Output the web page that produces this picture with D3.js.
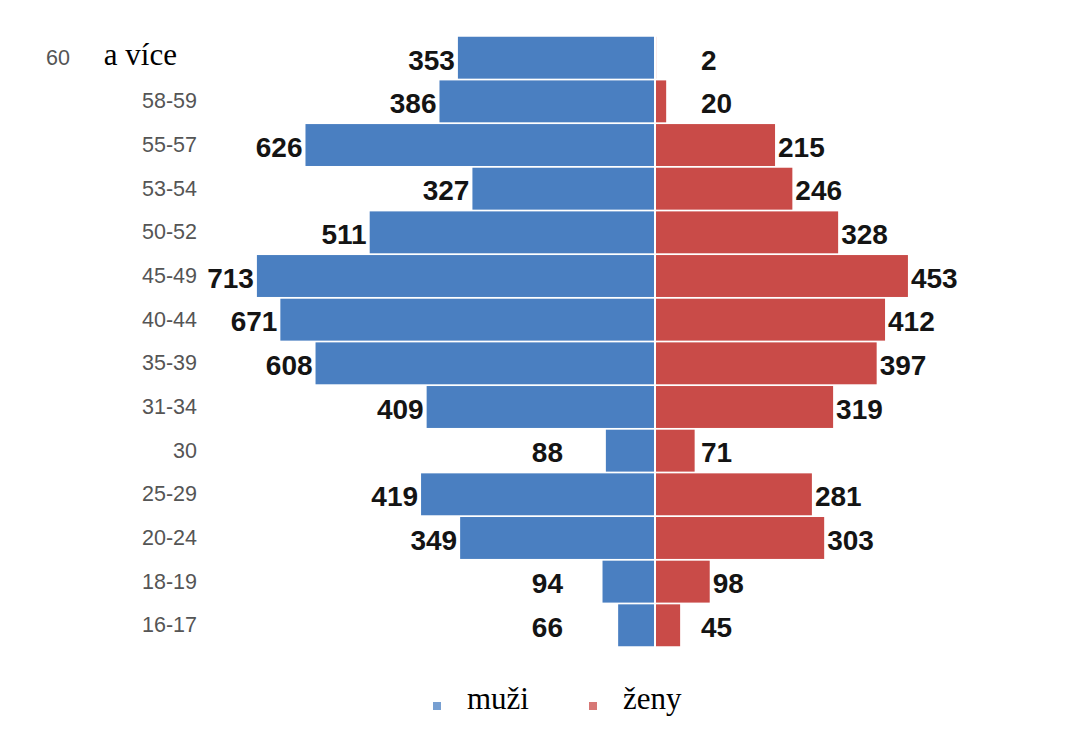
<!DOCTYPE html>
<html>
<head>
<meta charset="utf-8">
<script src="https://cdn.jsdelivr.net/npm/d3@7"></script>
<style>
  body { margin: 0; background: #fff; }
</style>
</head>
<body>
<div id="chart"></div>
<script>
// age groups, top to bottom
var ageGroups = ["60 a více", "58-59", "55-57", "53-54", "50-52", "45-49", "40-44",
  "35-39", "31-34", "30", "25-29", "20-24", "18-19", "16-17"];
var men = [353, 386, 626, 327, 511, 713, 671, 608, 409, 88, 419, 349, 94, 66];
var women = [2, 20, 215, 246, 328, 453, 412, 397, 319, 71, 281, 303, 98, 45];
var seriesNames = ["muži", "ženy"];

var svgWidth = 1065, svgHeight = 740;
var cx = 655;
var blue = "#4a7fc1", red = "#c94b48";

var svg = d3.select("#chart").append("svg")
  .attr("width", svgWidth)
  .attr("height", svgHeight);

var data = ageGroups.map(function(g, i) {
  return { group: g, men: men[i], women: women[i] };
});

// scales
var xScale = d3.scaleLinear()
  .domain([-720, 720])
  .range([cx - 402, cx + 402]);

var yScale = d3.scaleBand()
  .domain(ageGroups)
  .range([35, 648])
  .padding(0.04);

// bars
svg.selectAll(".bar-m")
  .data(data)
  .enter()
  .append("rect")
  .attr("class", "bar-m")
  .attr("x", d => xScale(-d.men))
  .attr("y", d => yScale(d.group))
  .attr("width", d => xScale(0) - xScale(-d.men) - 1)
  .attr("height", yScale.bandwidth())
  .attr("fill", blue);

svg.selectAll(".bar-w")
  .data(data)
  .enter()
  .append("rect")
  .attr("class", "bar-w")
  .attr("x", xScale(0) + 1)
  .attr("y", d => yScale(d.group))
  .attr("width", d => Math.max(0, xScale(d.women) - xScale(0) - 1))
  .attr("height", yScale.bandwidth())
  .attr("fill", red);

// value labels
var labelFont = "'Liberation Sans', Arial, sans-serif";
var serifFont = "'Liberation Serif', 'Times New Roman', serif";

svg.selectAll(".lab-m")
  .data(data)
  .enter()
  .append("text")
  .attr("class", "lab-m")
  .attr("x", d => Math.min(xScale(-d.men) - 3, cx - 92))
  .attr("y", d => yScale(d.group) + yScale.bandwidth() / 2 + 2)
  .attr("dy", "0.35em")
  .attr("text-anchor", "end")
  .attr("font-family", labelFont)
  .attr("font-weight", "bold")
  .attr("font-size", "28px")
  .attr("fill", "#141414")
  .text(d => d.men);

svg.selectAll(".lab-w")
  .data(data)
  .enter()
  .append("text")
  .attr("class", "lab-w")
  .attr("x", d => Math.max(xScale(d.women) + 3, cx + 46))
  .attr("y", d => yScale(d.group) + yScale.bandwidth() / 2 + 2)
  .attr("dy", "0.35em")
  .attr("text-anchor", "start")
  .attr("font-family", labelFont)
  .attr("font-weight", "bold")
  .attr("font-size", "28px")
  .attr("fill", "#141414")
  .text(d => d.women);

// category axis
var yAxis = d3.axisLeft(yScale).tickSize(0).tickPadding(3);
var axisG = svg.append("g")
  .attr("transform", "translate(200,0)")
  .call(yAxis);
axisG.select(".domain").remove();
axisG.selectAll("text")
  .attr("font-family", labelFont)
  .attr("font-size", "21.5px")
  .attr("fill", "#555");

// first label: "60" sans + "a více" serif
axisG.selectAll(".tick text")
  .filter(d => d === ageGroups[0])
  .attr("x", -23)
  .text(null)
  .each(function() {
    var t = d3.select(this);
    t.append("tspan").text("60");
    t.append("tspan")
      .attr("dx", 34)
      .attr("font-family", serifFont)
      .attr("font-size", "31px")
      .attr("fill", "#000")
      .text("a více");
  });

// legend
var legend = svg.append("g").attr("transform", "translate(0,706)");
var legendX = [437, 593];
var legendColors = [blue, red];
seriesNames.forEach(function(name, i) {
  legend.append("rect")
    .attr("x", legendX[i] - 4)
    .attr("y", -4)
    .attr("width", 8)
    .attr("height", 8)
    .attr("fill", legendColors[i])
    .attr("opacity", 0.75);
  legend.append("text")
    .attr("x", legendX[i] + 30)
    .attr("y", 3)
    .attr("font-family", serifFont)
    .attr("font-size", "31px")
    .attr("fill", "#000")
    .text(name);
});
</script>
</body>
</html>
